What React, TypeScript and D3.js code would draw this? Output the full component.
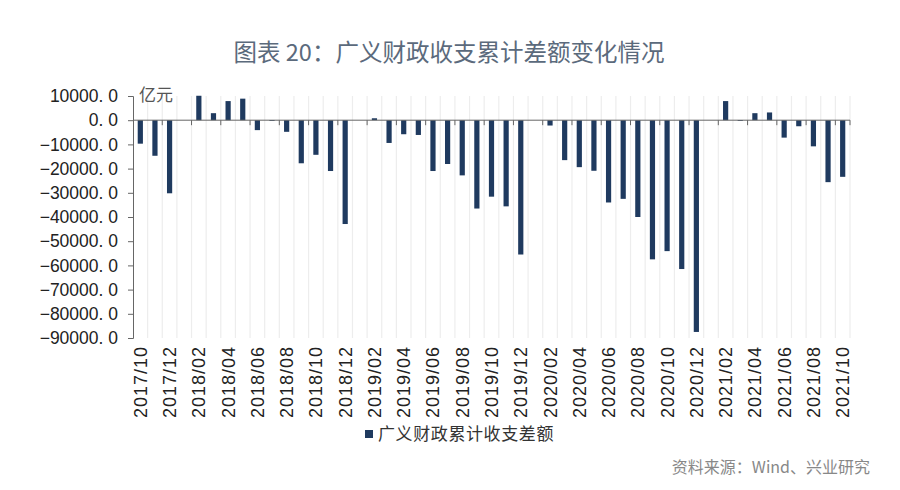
import { useEffect, useRef } from "react";
import * as d3 from "d3";

// 月份 2017/10 - 2021/10
const months = [
  "2017/10", "2017/11", "2017/12",
  "2018/01", "2018/02", "2018/03", "2018/04", "2018/05", "2018/06", "2018/07", "2018/08", "2018/09", "2018/10", "2018/11", "2018/12",
  "2019/01", "2019/02", "2019/03", "2019/04", "2019/05", "2019/06", "2019/07", "2019/08", "2019/09", "2019/10", "2019/11", "2019/12",
  "2020/01", "2020/02", "2020/03", "2020/04", "2020/05", "2020/06", "2020/07", "2020/08", "2020/09", "2020/10", "2020/11", "2020/12",
  "2021/01", "2021/02", "2021/03", "2021/04", "2021/05", "2021/06", "2021/07", "2021/08", "2021/09", "2021/10",
];

// 广义财政累计收支差额（亿元），1月无数据
const deficit: (number | null)[] = [
  -9700, -14700, -30200,
  null, 10100, 2900, 7900, 8900, -4100, -300, -4800, -17800, -14300, -21000, -42900,
  null, 800, -9400, -5800, -6100, -21000, -18100, -22800, -36500, -31600, -35600, -55500,
  null, -2200, -16500, -19400, -20900, -34000, -32500, -40000, -57500, -54100, -61500, -87500,
  null, 7900, -300, 2900, 3200, -7200, -2500, -10800, -25600, -23400,
];

const yTicks = [10000, 0, -10000, -20000, -30000, -40000, -50000, -60000, -70000, -80000, -90000];

const W = 900;
const H = 490;
const m = { t: 96, r: 50, b: 152, l: 133 };
const BAR = "#1f3a5f";
const AXIS = "#666";
const LABEL = "#222";
const SANS = "'Liberation Sans', Arial, sans-serif";
const CJK = "'Noto Sans CJK SC', sans-serif";

const fmt = (v: number) => {
  const s = Math.abs(v).toFixed(1).replace(".", ". ");
  return v < 0 ? "\u2212" + s : s;
};

export default function App() {
  const ref = useRef<SVGSVGElement>(null);

  useEffect(() => {
    if (!ref.current) return;
    const svg = d3.select(ref.current);
    svg.selectAll("*").remove();

    const x = d3.scaleBand<string>().domain(months).range([m.l, W - m.r]).paddingInner(0).paddingOuter(0);
    const y = d3.scaleLinear().domain([-90000, 10000]).range([H - m.b, m.t]);
    const bw = x.bandwidth();

    // 竖向网格线（每个月份边界）
    svg.append("g")
      .selectAll("line")
      .data(months.slice(1).concat(["end"]))
      .join("line")
      .attr("x1", (_d, i) => m.l + (i + 1) * bw)
      .attr("x2", (_d, i) => m.l + (i + 1) * bw)
      .attr("y1", y(10000))
      .attr("y2", y(-90000))
      .attr("stroke", "#ededed")
      .attr("stroke-width", 1.2);

    // 柱子
    svg.append("g")
      .selectAll("rect")
      .data(months.map((mo, i) => ({ mo, v: deficit[i] })).filter((d) => d.v !== null))
      .join("rect")
      .attr("x", (d) => x(d.mo)! + bw / 2 - 2.6)
      .attr("width", 5.2)
      .attr("y", (d) => y(Math.max(0, d.v as number)))
      .attr("height", (d) => Math.max(0.8, Math.abs(y(d.v as number) - y(0))))
      .attr("fill", BAR);

    // 零线及刻度
    svg.append("line")
      .attr("x1", m.l).attr("x2", W - m.r)
      .attr("y1", y(0)).attr("y2", y(0))
      .attr("stroke", AXIS).attr("stroke-width", 1);
    svg.append("g")
      .selectAll("line")
      .data(months.filter((_d, i) => i % 2 === 0 && i > 0).concat(["end"]))
      .join("line")
      .attr("x1", (d) => (d === "end" ? W - m.r : x(d)!))
      .attr("x2", (d) => (d === "end" ? W - m.r : x(d)!))
      .attr("y1", y(0)).attr("y2", y(0) + 5)
      .attr("stroke", AXIS).attr("stroke-width", 1);

    // Y 轴
    const yAxis = svg.append("g")
      .attr("transform", `translate(${m.l},0)`)
      .call(d3.axisLeft(y).tickValues(yTicks).tickSize(5).tickSizeOuter(5).tickPadding(10).tickFormat((d) => fmt(+d)));
    yAxis.select(".domain").attr("stroke", AXIS);
    yAxis.selectAll(".tick line").attr("stroke", AXIS);
    yAxis.selectAll("text")
      .attr("font-family", SANS)
      .attr("font-size", 17.5)
      .attr("fill", LABEL);

    // X 轴标签（每两个月）
    svg.append("g")
      .selectAll("text")
      .data(months.filter((_d, i) => i % 2 === 0))
      .join("text")
      .attr("transform", (d) => `translate(${x(d)! + bw / 2 + 6.5},${y(-90000) + 8}) rotate(-90)`)
      .attr("text-anchor", "end")
      .attr("font-family", SANS)
      .attr("font-size", 18)
      .attr("letter-spacing", 1)
      .attr("fill", LABEL)
      .text((d) => d);

    // 单位
    svg.append("text")
      .attr("x", 139).attr("y", 101)
      .attr("font-family", CJK)
      .attr("font-size", 17)
      .attr("fill", "#555")
      .text("亿元");

    // 标题
    svg.append("text")
      .attr("x", 449).attr("y", 61)
      .attr("text-anchor", "middle")
      .attr("font-family", CJK)
      .attr("font-size", 23.5)
      .attr("font-weight", 400)
      .attr("fill", "#5b6a7c")
      .text("图表 20：广义财政收支累计差额变化情况");

    // 图例
    svg.append("rect")
      .attr("x", 365).attr("y", 430)
      .attr("width", 8).attr("height", 8)
      .attr("fill", BAR);
    svg.append("text")
      .attr("x", 378).attr("y", 440)
      .attr("font-family", CJK)
      .attr("font-size", 17)
      .attr("letter-spacing", 0.6)
      .attr("fill", "#333")
      .text("广义财政累计收支差额");

    // 资料来源
    svg.append("text")
      .attr("x", 870).attr("y", 473)
      .attr("text-anchor", "end")
      .attr("font-family", CJK)
      .attr("font-size", 16)
      .attr("fill", "#888")
      .text("资料来源：Wind、兴业研究");
  }, []);

  return (
    <svg
      ref={ref}
      width={W}
      height={H}
      style={{ position: "absolute", left: 0, top: 0, background: "#fff" }}
    />
  );
}
